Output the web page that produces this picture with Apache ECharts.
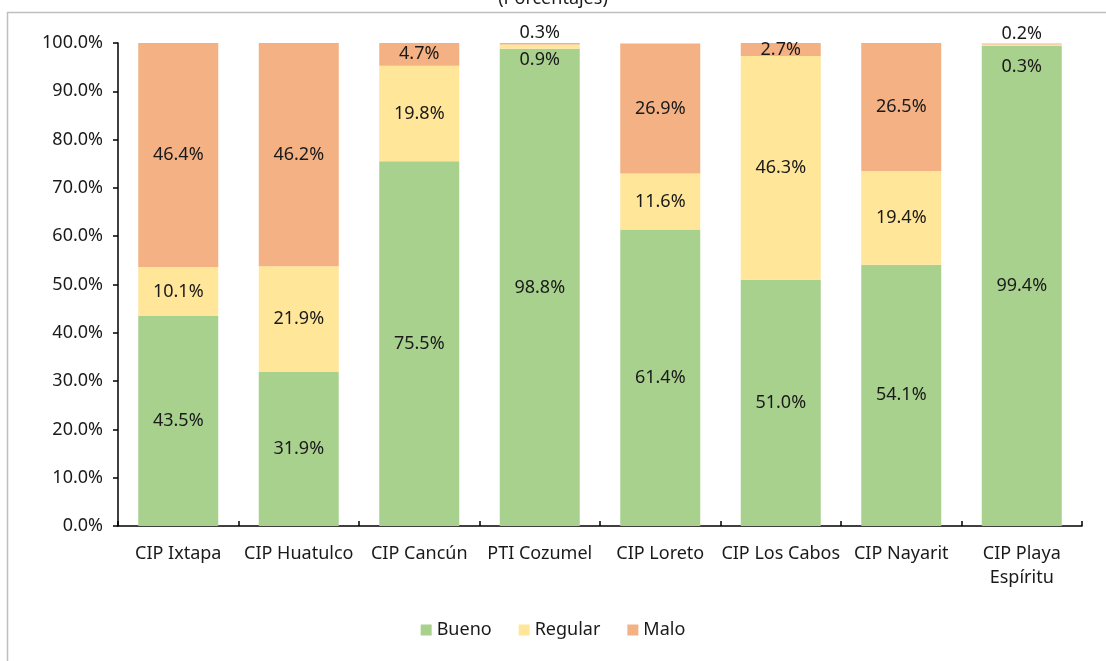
<!DOCTYPE html>
<html>
<head>
<meta charset="utf-8">
<script src="https://cdn.jsdelivr.net/npm/echarts@6/dist/echarts.min.js"></script>
<style>html,body{margin:0;padding:0;background:#fff}#c{width:1106px;height:661px}</style>
</head>
<body>
<div id="c"></div>
<script>
const categories = ['CIP Ixtapa','CIP Huatulco','CIP Cancún','PTI Cozumel','CIP Loreto','CIP Los Cabos','CIP Nayarit','CIP Playa\nEspíritu'];
const bueno   = [43.5, 31.9, 75.5, 98.8, 61.4, 51.0, 54.1, 99.4];
const regular = [10.1, 21.9, 19.8, 0.9, 11.6, 46.3, 19.4, 0.3];
const malo    = [46.4, 46.2, 4.7, 0.3, 26.9, 2.7, 26.5, 0.2];
const seriesNames = ['Bueno','Regular','Malo'];
const colors = ['#A9D18E','#FFE699','#F4B183'];
const font = 'Noto Sans';
const txt = '#1a1a1a';
const fs = 18;

function fmt(p){ return p.value.toFixed(1) + '%'; }

const regData = regular.map((v,i) => {
  if (i === 3) return {value: v, label: {offset: [0, 13]}};
  if (i === 7) return {value: v, label: {offset: [0, 22]}};
  return v;
});
const maloData = malo.map((v,i) => {
  if (i === 3 || i === 7) return {value: v, label: {position: 'top', distance: 1}};
  return v;
});

const chart = echarts.init(document.getElementById('c'), null, {renderer: 'canvas'});
chart.setOption({
  animation: false,
  textStyle: {fontFamily: font},
  graphic: [
    {type: 'line', shape: {x1: 7, y1: 12.5, x2: 1106, y2: 12.5}, style: {stroke: '#bfbfbf', lineWidth: 1.5}},
    {type: 'line', shape: {x1: 7.5, y1: 12, x2: 7.5, y2: 661}, style: {stroke: '#bfbfbf', lineWidth: 1.5}},
    {type: 'text', left: 'center', top: -10, style: {text: '(Porcentajes)', fontFamily: font, fontSize: fs, fill: txt}}
  ],
  legend: {
    data: seriesNames, bottom: 17, left: 'center', itemWidth: 11, itemHeight: 11, itemGap: 27,
    icon: 'rect',
    textStyle: {fontFamily: font, fontSize: fs, color: txt}
  },
  grid: {left: 118, right: 24, top: 43, bottom: 135, containLabel: false},
  xAxis: {
    type: 'category', data: categories,
    axisLine: {lineStyle: {color: '#000', width: 1.5}},
    axisTick: {show: true, inside: true, length: 5, lineStyle: {color: '#000', width: 1.5}},
    axisLabel: {fontFamily: font, fontSize: fs, color: txt, margin: 16, lineHeight: 24, interval: 0}
  },
  yAxis: {
    type: 'value', min: 0, max: 100, interval: 10,
    axisLine: {show: true, lineStyle: {color: '#000', width: 1.5}},
    axisTick: {show: true, length: 5, lineStyle: {color: '#000', width: 1.5}},
    splitLine: {show: false},
    axisLabel: {fontFamily: font, fontSize: fs, color: txt, margin: 15, formatter: v => v.toFixed(1) + '%'}
  },
  series: [
    {name: seriesNames[0], type: 'bar', stack: 't', data: bueno, barWidth: 80, itemStyle: {color: colors[0]},
     label: {show: true, position: 'inside', formatter: fmt, fontFamily: font, fontSize: fs, color: txt}},
    {name: seriesNames[1], type: 'bar', stack: 't', data: regData, barWidth: 80, itemStyle: {color: colors[1]},
     label: {show: true, position: 'inside', formatter: fmt, fontFamily: font, fontSize: fs, color: txt}},
    {name: seriesNames[2], type: 'bar', stack: 't', data: maloData, barWidth: 80, itemStyle: {color: colors[2]},
     label: {show: true, position: 'inside', formatter: fmt, fontFamily: font, fontSize: fs, color: txt}}
  ]
});
</script>
</body>
</html>
